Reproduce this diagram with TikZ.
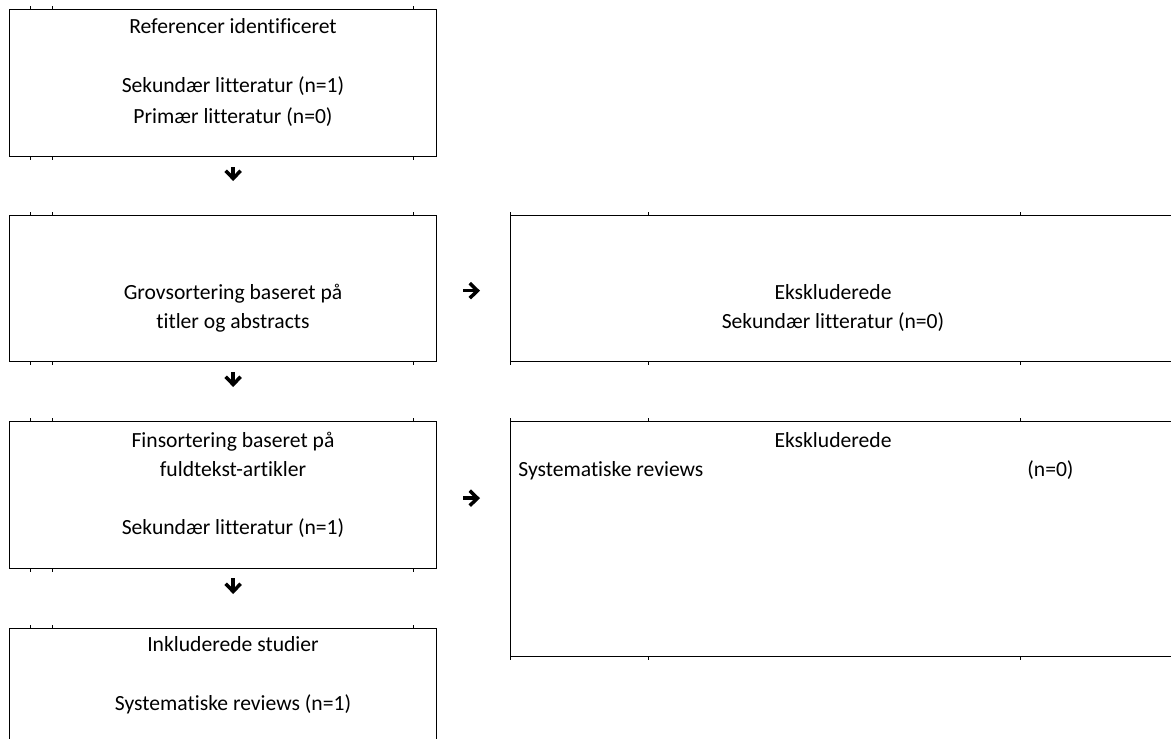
\documentclass[tikz,border=0pt]{standalone}
\usepackage{fontspec}
\setmainfont{Carlito}[Ligatures=CommonOff]
\usetikzlibrary{arrows.meta}

\tikzset{
  box/.style={draw, line width=0.8pt, anchor=north west, inner sep=0pt},
  txt/.style={anchor=base, inner sep=0pt, font=\fontsize{12.3}{15}\selectfont},
  tick/.style={line width=0.4pt},
  pil/.style={line width=2pt,
    -{Straight Barb[length=4.4pt,width=8.5pt,line width=2pt]}}
}

\begin{document}
\begin{tikzpicture}[x=0.02cm,y=-0.02cm]
  \useasboundingbox (0,0) rectangle (1171,738);

  % left column
  \node[box, minimum width=8.54cm, minimum height=2.94cm] (ref) at (9,9) {};
  \node[box, minimum width=8.54cm, minimum height=2.92cm] (grov) at (9,215) {};
  \node[box, minimum width=8.54cm, minimum height=2.94cm] (fin) at (9,421) {};
  \node[box, minimum width=8.54cm, minimum height=2.5cm] (inkl) at (9,628) {};
  % right column
  \node[box, minimum width=13.4cm, minimum height=2.92cm] (eks1) at (510,215) {};
  \node[box, minimum width=13.4cm, minimum height=4.7cm] (eks2) at (510,421) {};

  \node[txt] (refT) at (233,33) {Referencer identificeret};
  \node[txt] (refS) at (233,92) {Sekundær litteratur (n=1)};
  \node[txt] (refP) at (233,123) {Primær litteratur (n=0)};

  \node[txt] (grovA) at (233,299) {Grovsortering baseret på};
  \node[txt] (grovB) at (233,328) {titler og abstracts};

  \node[txt] (eks1T) at (833,299) {Ekskluderede};
  \node[txt] (eks1S) at (833,328) {Sekundær litteratur (n=0)};

  \node[txt] (finA) at (233,447) {Finsortering baseret på};
  \node[txt] (finB) at (233,476) {fuldtekst-artikler};
  \node[txt] (finS) at (233,534) {Sekundær litteratur (n=1)};

  \node[txt] (eks2T) at (833,447) {Ekskluderede};
  \node[txt, anchor=base west] (eks2S) at (518,476) {Systematiske reviews};
  \node[txt, anchor=base west] (eks2N) at (1027,476) {(n=0)};

  \node[txt] (inklT) at (233,651) {Inkluderede studier};
  \node[txt] (inklS) at (233,710) {Systematiske reviews (n=1)};

  % arrows
  \draw[pil, shorten <=0.2cm, shorten >=0.68cm] ([xshift=0.2cm]ref.south) -- ([xshift=0.2cm]grov.north);
  \draw[pil, shorten <=0.2cm, shorten >=0.68cm] ([xshift=0.2cm]grov.south) -- ([xshift=0.2cm]fin.north);
  \draw[pil, shorten <=0.18cm, shorten >=0.68cm] ([xshift=0.2cm]fin.south) -- ([xshift=0.2cm]inkl.north);
  \draw[pil, shorten <=0.52cm, shorten >=0.6cm] ([yshift=-0.04cm]grov.east) -- ([yshift=-0.04cm]grov.east -| eks1.west);
  \draw[pil, shorten <=0.52cm, shorten >=0.6cm] ([yshift=-0.06cm]fin.east) -- ([yshift=-0.06cm]fin.east -| eks2.west);

  % column marks
  \foreach \b in {ref,grov,fin,inkl} {
    \foreach \d in {0.42cm,0.86cm,8.08cm} {
      \draw[tick] ([xshift=\d]\b.north west) -- ++(0,-3);
      \draw[tick] ([xshift=\d]\b.south west) -- ++(0,3);
    }
  }
  \foreach \b in {eks1,eks2} {
    \foreach \d in {0cm,2.76cm,10.2cm} {
      \draw[tick] ([xshift=\d]\b.north west) -- ++(0,-3);
      \draw[tick] ([xshift=\d]\b.south west) -- ++(0,3);
    }
  }
\end{tikzpicture}
\end{document}
